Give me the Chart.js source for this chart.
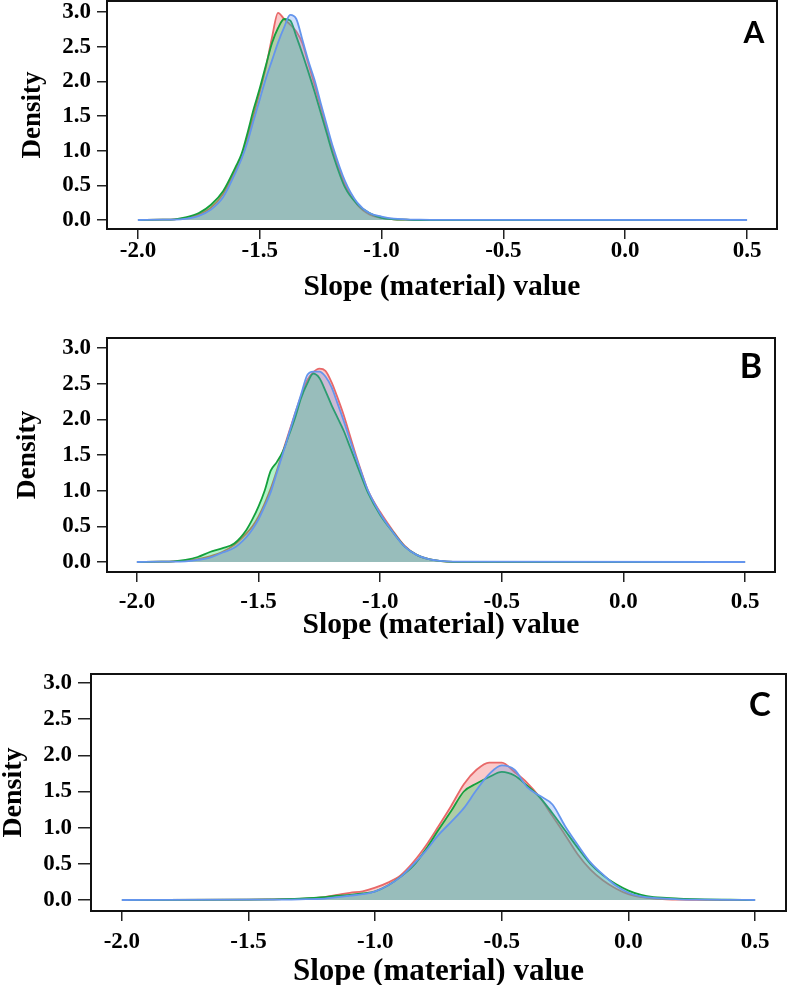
<!DOCTYPE html>
<html>
<head>
<meta charset="utf-8">
<script src="https://cdn.jsdelivr.net/npm/chart.js@4.4.1/dist/chart.umd.min.js"></script>
<style>
    html, body { margin: 0; padding: 0; background: #fff; overflow: hidden; }
    .panel { position: absolute; left: 0; width: 787px; }
</style>
</head>
<body>
<div class="panel" style="top:0px;height:310px"><canvas id="chartA"></canvas></div>
<div class="panel" style="top:310px;height:340px"><canvas id="chartB"></canvas></div>
<div class="panel" style="top:650px;height:340px"><canvas id="chartC"></canvas></div>
<script>
// tick labels (same for all three panels)
var xTicks = [-2.0, -1.5, -1.0, -0.5, 0.0, 0.5];
var yTicks = [0.0, 0.5, 1.0, 1.5, 2.0, 2.5, 3.0];

// panel A - density of slope values
var xA = [-2.0, -1.9, -1.85, -1.8, -1.75, -1.7, -1.65, -1.6, -1.575, -1.55, -1.525, -1.5, -1.475, -1.45, -1.425, -1.4, -1.375, -1.35, -1.325, -1.3, -1.275, -1.25, -1.225, -1.2, -1.15, -1.1, -1.05, -1.0, -0.95, -0.9, -0.85, -0.8, 0.5];
var redA = [0, 0.005, 0.01, 0.03, 0.08, 0.18, 0.38, 0.72, 0.92, 1.2, 1.52, 1.85, 2.2, 2.63, 2.99, 2.9, 2.82, 2.72, 2.55, 2.25, 1.95, 1.64, 1.32, 1.02, 0.51, 0.22, 0.08, 0.03, 0.01, 0.005, 0, 0, 0];
var greenA = [0, 0.005, 0.01, 0.04, 0.1, 0.22, 0.42, 0.76, 0.95, 1.26, 1.6, 1.9, 2.23, 2.55, 2.77, 2.9, 2.88, 2.65, 2.4, 2.13, 1.85, 1.55, 1.25, 0.95, 0.47, 0.23, 0.1, 0.03, 0.01, 0.005, 0, 0, 0];
var blueA = [0, 0.005, 0.005, 0.02, 0.06, 0.15, 0.33, 0.68, 0.88, 1.13, 1.44, 1.74, 2.04, 2.3, 2.56, 2.78, 2.96, 2.9, 2.6, 2.29, 2.02, 1.69, 1.37, 1.06, 0.56, 0.25, 0.1, 0.05, 0.02, 0.01, 0.005, 0.002, 0];

// panel B
var xB = [-2.0, -1.9, -1.85, -1.8, -1.75, -1.7, -1.65, -1.6, -1.55, -1.525, -1.5, -1.475, -1.45, -1.425, -1.4, -1.375, -1.35, -1.325, -1.3, -1.275, -1.25, -1.225, -1.2, -1.175, -1.15, -1.125, -1.1, -1.075, -1.05, -1.0, -0.95, -0.9, -0.85, -0.8, -0.75, -0.7, 0.5];
var redB = [0, 0.005, 0.01, 0.02, 0.04, 0.08, 0.14, 0.24, 0.4, 0.5, 0.64, 0.82, 1.03, 1.28, 1.55, 1.82, 2.08, 2.33, 2.55, 2.66, 2.71, 2.68, 2.52, 2.3, 2.06, 1.78, 1.5, 1.24, 1.0, 0.7, 0.45, 0.23, 0.1, 0.04, 0.012, 0.003, 0];
var greenB = [0, 0.005, 0.01, 0.03, 0.07, 0.14, 0.19, 0.26, 0.45, 0.6, 0.78, 1.0, 1.28, 1.4, 1.55, 1.78, 2.02, 2.3, 2.5, 2.64, 2.58, 2.4, 2.2, 2.02, 1.84, 1.62, 1.4, 1.18, 0.97, 0.66, 0.43, 0.22, 0.1, 0.04, 0.012, 0.003, 0];
var blueB = [0, 0.005, 0.005, 0.01, 0.03, 0.06, 0.13, 0.2, 0.35, 0.46, 0.6, 0.78, 0.98, 1.25, 1.52, 1.8, 2.08, 2.35, 2.62, 2.67, 2.67, 2.6, 2.45, 2.22, 1.98, 1.72, 1.47, 1.23, 1.0, 0.68, 0.43, 0.22, 0.1, 0.04, 0.015, 0.005, 0];

// panel C
var xC = [-2.0, -1.5, -1.4, -1.3, -1.2, -1.15, -1.1, -1.05, -1.0, -0.95, -0.9, -0.85, -0.8, -0.75, -0.7, -0.65, -0.6, -0.55, -0.5, -0.45, -0.4, -0.35, -0.3, -0.25, -0.2, -0.15, -0.1, -0.05, 0.0, 0.05, 0.1, 0.15, 0.2, 0.3, 0.4, 0.5];
var redC = [0, 0.005, 0.01, 0.015, 0.04, 0.07, 0.1, 0.12, 0.17, 0.24, 0.34, 0.52, 0.75, 1.02, 1.3, 1.6, 1.8, 1.9, 1.9, 1.77, 1.62, 1.42, 1.16, 0.9, 0.63, 0.42, 0.27, 0.16, 0.08, 0.04, 0.02, 0.01, 0.005, 0.002, 0, 0];
var greenC = [0, 0.005, 0.01, 0.02, 0.04, 0.06, 0.07, 0.09, 0.12, 0.2, 0.32, 0.47, 0.7, 0.97, 1.23, 1.5, 1.61, 1.7, 1.77, 1.72, 1.58, 1.42, 1.2, 0.96, 0.72, 0.5, 0.34, 0.22, 0.13, 0.07, 0.04, 0.03, 0.02, 0.01, 0.005, 0];
var blueC = [0, 0.005, 0.005, 0.01, 0.02, 0.04, 0.06, 0.08, 0.12, 0.2, 0.32, 0.49, 0.68, 0.9, 1.08, 1.27, 1.52, 1.74, 1.86, 1.8, 1.56, 1.44, 1.32, 1.02, 0.76, 0.52, 0.35, 0.2, 0.1, 0.05, 0.03, 0.02, 0.01, 0.005, 0.002, 0];

var serif = "'Liberation Serif', 'Times New Roman', serif";

function toPoints(xs, ys) {
    return xs.map(function (x, i) { return { x: x, y: ys[i] }; });
}

function densitySet(xs, ys, line, fill, order) {
    return {
        data: toPoints(xs, ys),
        borderColor: line,
        backgroundColor: fill,
        borderWidth: 1.8,
        fill: "origin",
        pointRadius: 0,
        cubicInterpolationMode: "monotone",
        order: order,
    };
}

// box round the plot area + panel letter
var boxPlugin = {
    id: "boxAndLetter",
    afterDraw: function (chart) {
        var a = chart.chartArea;
        var o = chart.options.plugins.boxAndLetter;
        var ctx = chart.ctx;
        ctx.save();
        ctx.strokeStyle = "#111";
        ctx.lineWidth = 2;
        ctx.strokeRect(a.left, a.top, a.right - a.left, a.bottom - a.top);
        ctx.fillStyle = "#000";
        ctx.font = "bold " + o.size + "px Lato, 'Open Sans', sans-serif";
        ctx.textAlign = "center";
        ctx.textBaseline = "middle";
        ctx.fillText(o.letter, o.lx, o.ly);
        ctx.restore();
    },
};

function makePanel(id, xs, red, green, blue, p) {
    var ctx = document.getElementById(id).getContext("2d");
    return new Chart(ctx, {
        type: "line",
        data: {
            datasets: [
                densitySet(xs, red, "rgba(232,104,104,1)", "rgba(240,80,80,0.3)", 3),
                densitySet(xs, green, "rgba(20,160,60,1)", "rgba(0,215,80,0.3)", 2),
                densitySet(xs, blue, "rgba(100,149,237,1)", "rgba(100,149,237,0.3)", 1),
            ],
        },
        options: {
            responsive: true,
            maintainAspectRatio: false,
            animation: false,
            layout: { padding: { top: p.top, right: p.right, left: p.left, bottom: p.bottom } },
            plugins: {
                legend: { display: false },
                tooltip: { enabled: false },
                boxAndLetter: { letter: p.letter, size: p.letterSize, lx: p.lx, ly: p.ly },
            },
            scales: {
                x: {
                    type: "linear",
                    min: p.xMin,
                    max: p.xMax,
                    afterBuildTicks: function (s) {
                        s.ticks = xTicks.map(function (v) { return { value: v }; });
                    },
                    afterFit: function (s) {
                        s.height = p.xHeight;
                        s.paddingLeft = 0;
                        s.paddingRight = 0;
                    },
                    grid: { drawOnChartArea: false, tickLength: 10, color: "#222", lineWidth: 1.5 },
                    border: { display: false },
                    ticks: {
                        padding: p.xPad,
                        color: "#000",
                        font: { family: serif, weight: "bold", size: 23, lineHeight: 1 },
                        callback: function (v) { return v.toFixed(1); },
                    },
                    title: {
                        display: true,
                        text: "Slope (material) value",
                        color: "#000",
                        padding: 0,
                        font: { family: serif, weight: "bold", size: p.titleSize, lineHeight: 1 },
                    },
                },
                y: {
                    min: p.yMin,
                    max: p.yMax,
                    afterBuildTicks: function (s) {
                        s.ticks = yTicks.map(function (v) { return { value: v }; });
                    },
                    afterFit: function (s) {
                        s.width = p.yWidth;
                        s.paddingTop = 0;
                        s.paddingBottom = 0;
                    },
                    grid: { drawOnChartArea: false, tickLength: p.yTick, color: "#222", lineWidth: 1.5 },
                    border: { display: false },
                    ticks: {
                        padding: 6,
                        color: "#000",
                        font: { family: serif, weight: "bold", size: 23, lineHeight: 1 },
                        callback: function (v) { return v.toFixed(1); },
                    },
                    title: {
                        display: true,
                        text: "Density",
                        color: "#000",
                        padding: 0,
                        font: { family: serif, weight: "bold", size: p.densSize, lineHeight: 1 },
                    },
                },
            },
        },
        plugins: [boxPlugin],
    });
}

makePanel("chartA", xA, redA, greenA, blueA, {
    top: 1, right: 10, left: 19.5, bottom: 8.25, yWidth: 87.5, xHeight: 72.75, xPad: 0.5, yTick: 10,
    xMin: -2.127, xMax: 0.623, yMin: -0.13, yMax: 3.16,
    titleSize: 29.5, densSize: 27, letter: "A", letterSize: 30, lx: 754, ly: 33,
});

makePanel("chartB", xB, redB, greenB, blueB, {
    top: 28, right: 12, left: 14.5, bottom: 10.25, yWidth: 92.5, xHeight: 67.75, xPad: 8.5, yTick: 10,
    xMin: -2.123, xMax: 0.623, yMin: -0.14, yMax: 3.14,
    titleSize: 29.5, densSize: 27.5, letter: "B", letterSize: 34, lx: 751, ly: 57,
});

makePanel("chartC", xC, redC, greenC, blueC, {
    top: 24, right: 1, left: 0, bottom: 2.5, yWidth: 91, xHeight: 76.5, xPad: 9.5, yTick: 13,
    xMin: -2.122, xMax: 0.622, yMin: -0.152, yMax: 3.124,
    titleSize: 31, densSize: 28, letter: "C", letterSize: 33, lx: 760, ly: 55,
});
</script>
</body>
</html>
